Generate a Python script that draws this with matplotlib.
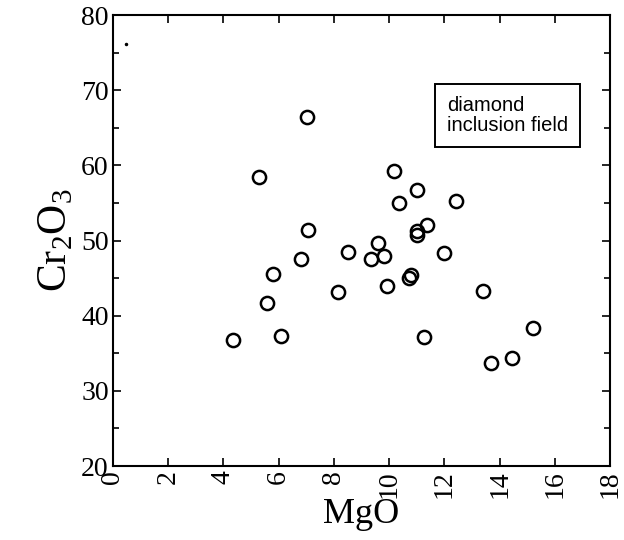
import numpy as np
import matplotlib
matplotlib.use("Agg")
import matplotlib.pyplot as plt
from matplotlib.ticker import MultipleLocator

# data (wt%)
mgo = [4.35, 5.3, 5.58, 5.8, 6.09, 6.82, 7.03, 7.07, 8.16, 8.52, 9.35, 9.6,
       9.82, 9.93, 10.17, 10.37, 10.72, 10.8, 11.0, 11.0, 11.02, 11.27, 11.37,
       12.0, 12.4, 13.4, 13.7, 14.46, 15.2]
cr2o3 = [36.8, 58.5, 41.7, 45.6, 37.3, 47.6, 66.4, 51.4, 43.2, 48.5, 47.6, 49.7,
         48.0, 44.0, 59.2, 55.0, 45.0, 45.4, 56.7, 51.3, 50.8, 37.2, 52.1,
         48.4, 55.3, 43.3, 33.7, 34.4, 38.3]
dot_x = [0.47]
dot_y = [76.1]

plt.rcParams["font.family"] = "Liberation Serif"
plt.rcParams["mathtext.fontset"] = "custom"
plt.rcParams["mathtext.rm"] = "Liberation Serif"

fig = plt.figure(figsize=(6.24, 5.4), dpi=100)
ax = fig.add_axes([0.181, 0.137, 0.797, 0.835])

ax.plot(mgo, cr2o3, "o", mfc="none", mec="black", ms=9.5, mew=1.8)
ax.plot(dot_x, dot_y, ".", color="black", ms=3)

ax.set_xlim(0, 18)
ax.set_ylim(20, 80)
ax.xaxis.set_major_locator(MultipleLocator(2))
ax.yaxis.set_major_locator(MultipleLocator(10))
ax.yaxis.set_minor_locator(MultipleLocator(5))

ax.tick_params(which="both", direction="in", top=True, right=True,
               width=1.2, labelsize=20)
ax.tick_params(which="major", length=6, pad=3)
ax.tick_params(which="minor", length=4)
ax.tick_params(axis="x", which="minor", top=False, bottom=False)
plt.setp(ax.get_xticklabels(), rotation=90)

for s in ax.spines.values():
    s.set_linewidth(1.5)

ax.set_xlabel("MgO", fontsize=26, labelpad=0)
ax.set_ylabel(r"Cr$_2$O$_3$", fontsize=30, labelpad=4)

ax.text(0.672, 0.82, "diamond\ninclusion field", transform=ax.transAxes,
        family="Liberation Sans", fontsize=14.5, va="top", ha="left",
        linespacing=1.05,
        bbox=dict(boxstyle="square,pad=0.6", fc="white", ec="black", lw=1.4))

fig.savefig("out.png", dpi=100)
